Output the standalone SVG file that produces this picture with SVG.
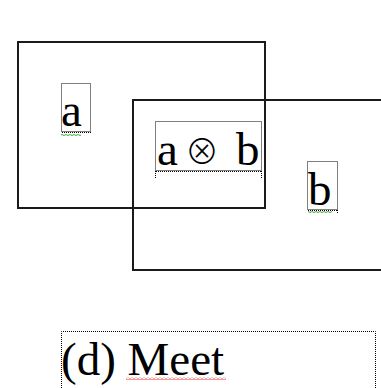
<svg xmlns="http://www.w3.org/2000/svg" width="381" height="388" viewBox="0 0 381 388">
  <style>
    .frame { fill: none; stroke: #1a1a1a; stroke-width: 2; }
    .dot { fill: none; stroke: #000; stroke-width: 1; stroke-dasharray: 1 1; }
    .dot2 { fill: none; stroke: #000; stroke-width: 1; stroke-dasharray: 1 1; stroke-dashoffset: 1; }
    .lbl { font-family: 'Liberation Serif', 'Times New Roman', 'DejaVu Serif', serif; font-size: 47px; fill: #000; }
    .sym { font-family: 'Noto Sans CJK JP', 'DejaVu Sans', sans-serif; font-size: 34px; font-weight: 300; }
  </style>
  <defs>
    <pattern id="wavyRed" x="0" y="0" width="4" height="3" patternUnits="userSpaceOnUse">
      <polyline points="0,2.5 2,0.5 4,2.5" fill="none" stroke="#e83030" stroke-width="1"/>
    </pattern>
    <pattern id="wavyGreen" x="0" y="0" width="4" height="2" patternUnits="userSpaceOnUse">
      <polyline points="0,1.5 2,0.5 4,1.5" fill="none" stroke="#3aa53a" stroke-width="1"/>
    </pattern>
  </defs>

  <!-- the two overlapping regions -->
  <g id="region-a">
    <rect class="frame" x="18" y="42" width="247" height="166"/>
  </g>
  <g id="region-b">
    <path class="frame" d="M385 100 H133 V270 H385"/>
  </g>

  <!-- label a -->
  <g id="label-a">
    <rect class="dot" x="61.5" y="83.5" width="29" height="48"/>
    <line class="dot2" x1="61" y1="132.5" x2="91" y2="132.5"/>
    <rect x="61" y="134" width="20" height="2" fill="url(#wavyGreen)"/>
    <text class="lbl" x="61" y="126">a</text>
  </g>

  <!-- label a ⊗ b -->
  <g id="label-meet">
    <rect class="dot" x="155.5" y="121.5" width="106" height="49"/>
    <line class="dot2" x1="155" y1="171.5" x2="262" y2="171.5"/>
    <line class="dot" x1="155.5" y1="171" x2="155.5" y2="178"/>
    <line class="dot" x1="261.5" y1="171" x2="261.5" y2="178"/>
    <text class="lbl" y="165"><tspan x="157">a</tspan><tspan class="sym" x="185" dy="-1">⊗</tspan><tspan x="236" dy="1">b</tspan></text>
  </g>

  <!-- label b -->
  <g id="label-b">
    <rect class="dot" x="307.5" y="161.5" width="30" height="48"/>
    <line class="dot2" x1="307" y1="210.5" x2="338" y2="210.5"/>
    <line class="dot" x1="337.5" y1="210" x2="337.5" y2="214"/>
    <rect x="308" y="211" width="24" height="2" fill="url(#wavyGreen)"/>
    <text class="lbl" x="308" y="205">b</text>
  </g>

  <!-- caption -->
  <g id="caption">
    <path class="dot" d="M61.5 388 V331.5 H375.5 V388"/>
    <text class="lbl" x="61" y="375">(d) Meet</text>
    <rect x="126" y="377" width="100" height="3" fill="url(#wavyRed)"/>
  </g>
</svg>
